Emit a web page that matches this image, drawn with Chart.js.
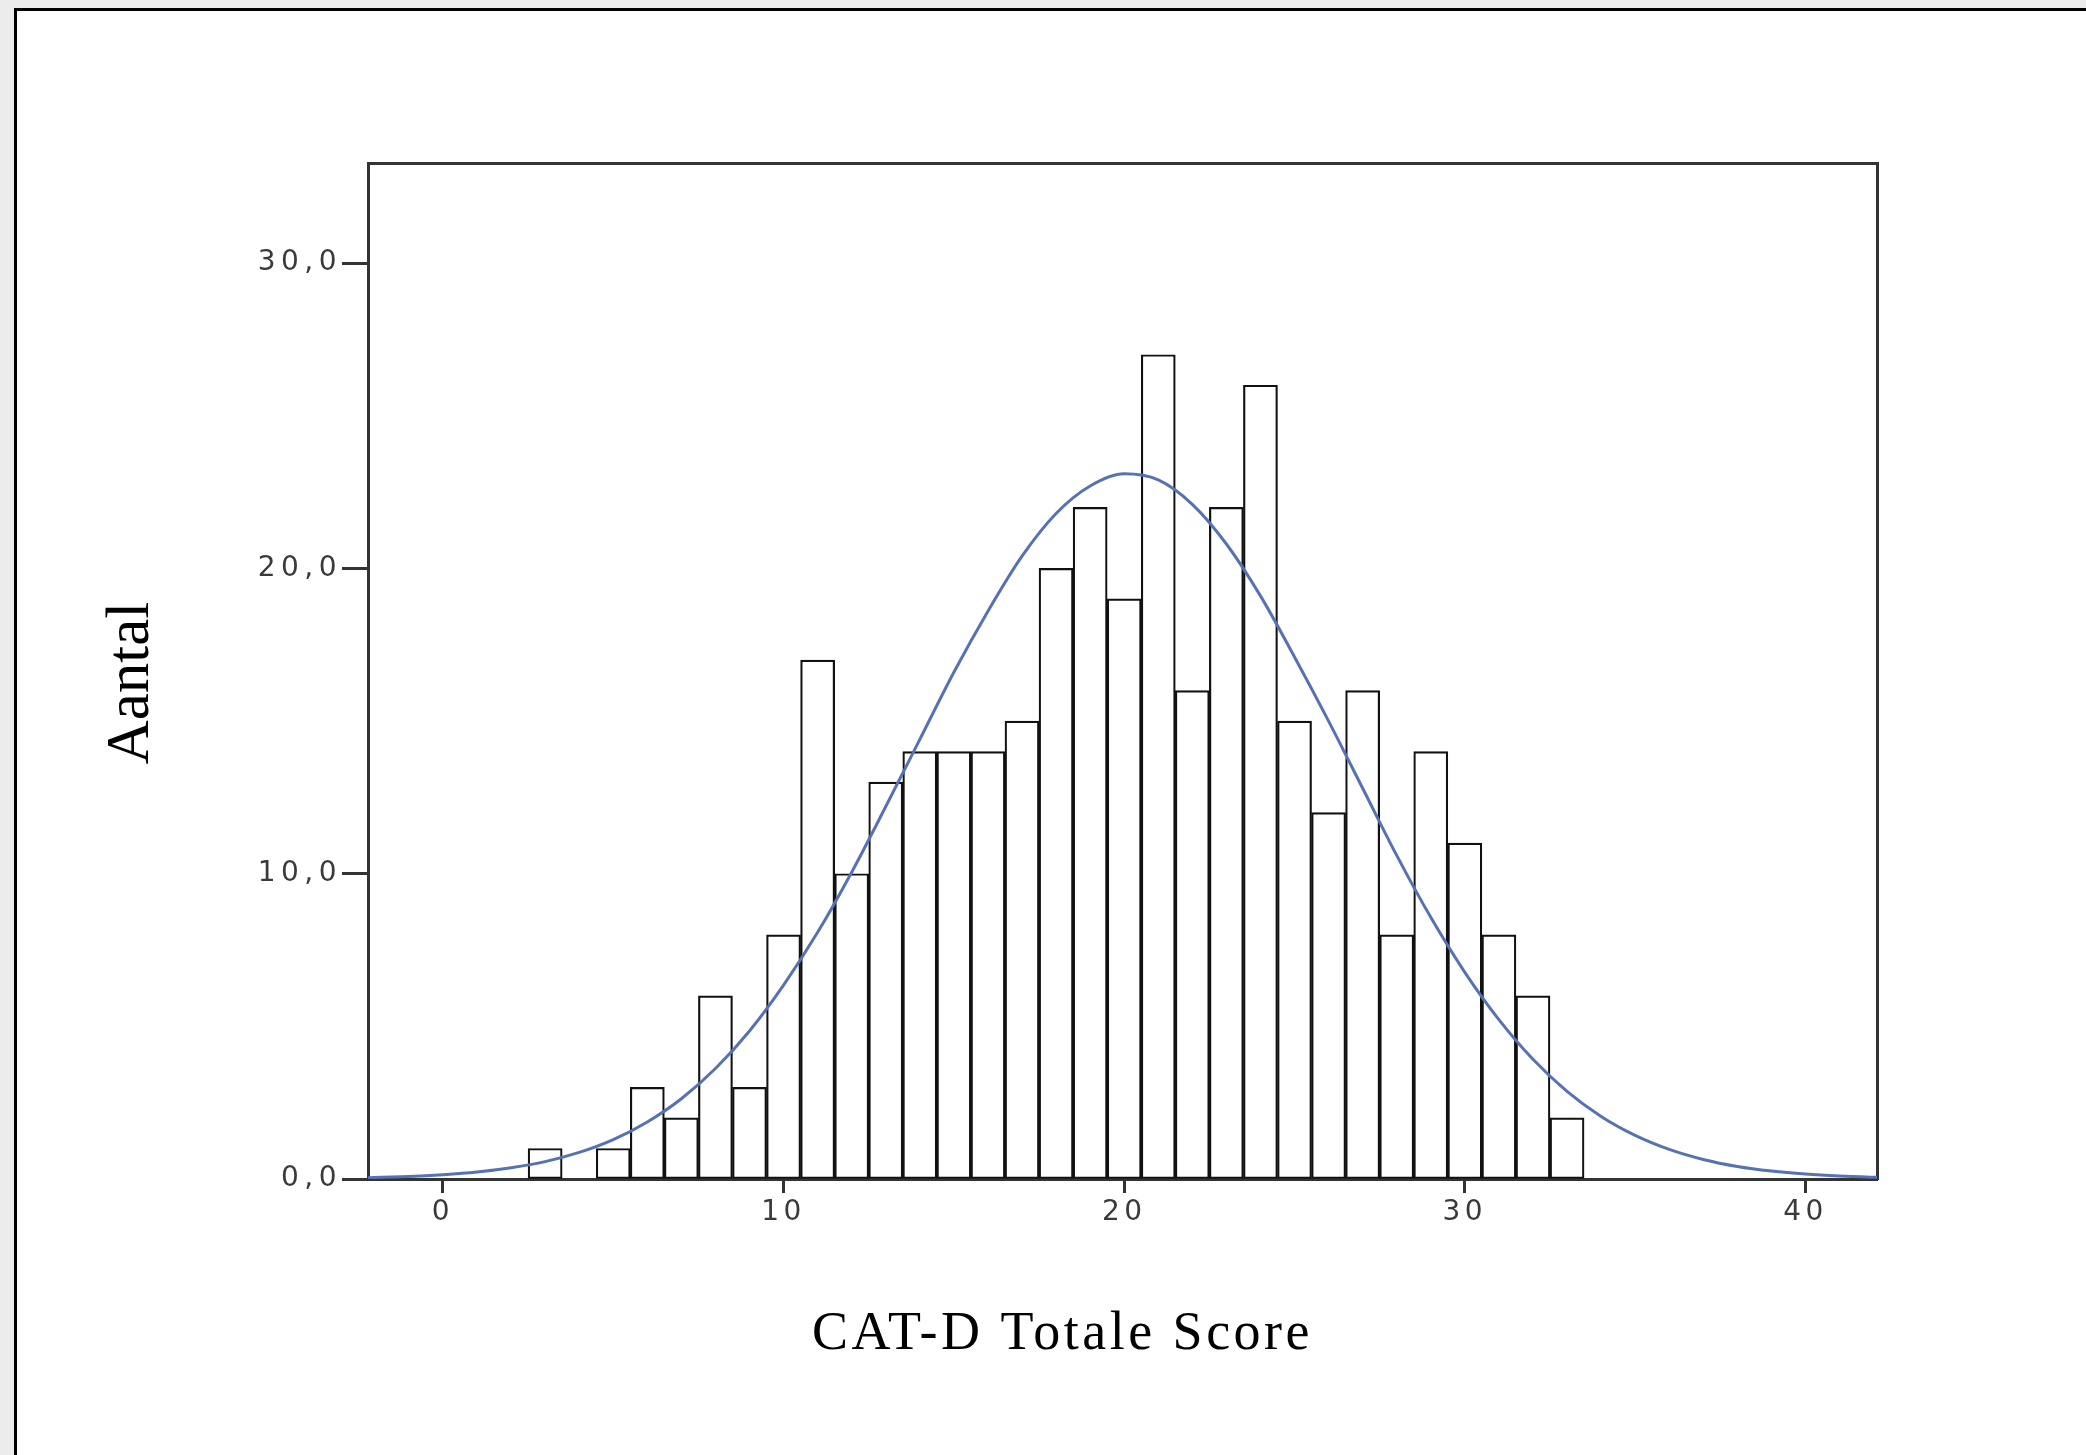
<!DOCTYPE html>
<html>
<head>
<meta charset="utf-8">
<script src="https://cdn.jsdelivr.net/npm/chart.js@4.4.1/dist/chart.umd.min.js"></script>
<style>
  html, body { margin: 0; padding: 0; }
  body { width: 2086px; height: 1455px; overflow: hidden; background: #ececec; position: relative; }
  #frame { position: absolute; left: 14px; top: 8px; width: 2069px; height: 1444px;
           border-left: 3px solid #000; border-top: 3px solid #000; background: #fff; }
  #c { display: block; }
</style>
</head>
<body>
<div id="frame"><canvas id="c" width="2069" height="1444"></canvas></div>
<script>
// ---- data ----
const binCenters = [3, 4, 5, 6, 7, 8, 9, 10, 11, 12, 13, 14, 15, 16, 17, 18, 19, 20,
                    21, 22, 23, 24, 25, 26, 27, 28, 29, 30, 31, 32, 33];
const binCounts  = [1, 0, 1, 3, 2, 6, 3, 8, 17, 10, 13, 14, 14, 14, 15, 20, 22, 19,
                    27, 16, 22, 26, 15, 12, 16, 8, 14, 11, 8, 6, 2];

const curveX = [-2.2, -2, -1, 0, 1, 2, 3, 4, 5, 6, 7, 8, 9, 10, 11, 12, 13, 14, 15, 16,
                17, 18, 19, 20, 21, 22, 23, 24, 25, 26, 27, 28, 29, 30, 31, 32, 33,
                34, 35, 36, 37, 38, 39, 40, 41, 42, 42.1];
const curveY = [0.04, 0.05, 0.08, 0.14, 0.23, 0.37, 0.57, 0.87, 1.29, 1.87, 2.63, 3.62,
                4.85, 6.35, 8.08, 10.05, 12.2, 14.4, 16.6, 18.6, 20.4, 21.8, 22.7, 23.1,
                22.9, 22.1, 20.8, 19.1, 17.1, 15.0, 12.8, 10.6, 8.57, 6.77, 5.22, 3.92,
                2.87, 2.05, 1.43, 0.97, 0.64, 0.41, 0.26, 0.16, 0.096, 0.056, 0.053];

const xTickValues = [0, 10, 20, 30, 40];
const xTickLabels = ['0', '10', '20', '30', '40'];
const yTickValues = [0, 10, 20, 30];
const yTickLabels = ['0,0', '10,0', '20,0', '30,0'];

const xTitle = 'CAT-D Totale Score';
const yTitle = 'Aantal';

// ---- styling ----
const AXIS = '#333333';
const CURVE = '#5672b4';

const textTweaks = {
  x: { tickSpacing: '4.5px', titleSpacing: '3.5px', titleDx: -60, titleDy: 0 },
  y: { tickSpacing: '5.5px', titleSpacing: '0px', titleDx: 0, titleDy: 12 }
};

const tweakPlugin = {
  id: 'textTweaks',
  beforeDraw(chart) {
    Object.values(chart.scales).forEach(scale => {
      if (scale.$tweaked) return;
      scale.$tweaked = true;
      const cfg = textTweaks[scale.id] || {};
      const origLabels = scale.drawLabels.bind(scale);
      const origTitle = scale.drawTitle.bind(scale);
      scale.drawLabels = function (area) {
        const ctx = this.ctx;
        ctx.save();
        if ('letterSpacing' in ctx) ctx.letterSpacing = cfg.tickSpacing || '0px';
        origLabels(area);
        ctx.restore();
      };
      scale.drawTitle = function () {
        const ctx = this.ctx;
        ctx.save();
        if ('letterSpacing' in ctx) ctx.letterSpacing = cfg.titleSpacing || '0px';
        ctx.translate(cfg.titleDx || 0, cfg.titleDy || 0);
        origTitle();
        ctx.restore();
      };
    });
  }
};

const barData = binCenters.map((c, i) => ({ x: c, y: binCounts[i] }));
const curveData = curveX.map((c, i) => ({ x: c, y: curveY[i] }));

new Chart(document.getElementById('c'), {
  data: {
    datasets: [
      {
        type: 'line',
        data: curveData,
        borderColor: CURVE,
        borderWidth: 3,
        pointRadius: 0,
        cubicInterpolationMode: 'monotone',
        fill: false,
        order: 0
      },
      {
        type: 'bar',
        data: barData,
        backgroundColor: '#ffffff',
        borderColor: '#111111',
        borderWidth: 2.2,
        borderSkipped: false,
        barPercentage: 1,
        categoryPercentage: 1,
        grouped: false,
        order: 1
      }
    ]
  },
  options: {
    responsive: false,
    animation: false,
    events: [],
    layout: { padding: { left: 0, top: 152, right: 209, bottom: 0 } },
    plugins: { legend: { display: false }, tooltip: { enabled: false } },
    scales: {
      x: {
        type: 'linear',
        position: 'bottom',
        min: -2.2,
        max: 42.1,
        offset: false,
        afterBuildTicks: s => { s.ticks = xTickValues.map(v => ({ value: v })); },
        afterFit: s => { s.height = 276; },
        grid: { display: true, offset: false, drawOnChartArea: false, drawTicks: true, tickLength: 14,
                tickColor: AXIS, tickWidth: 3 },
        border: { display: true, color: AXIS, width: 3 },
        ticks: {
          padding: 3,
          color: '#3a3a3a',
          font: { family: 'DejaVu Sans', size: 28 },
          maxRotation: 0,
          callback: (v) => { const i = xTickValues.indexOf(v); return i >= 0 ? xTickLabels[i] : ''; }
        },
        title: { display: true, text: xTitle, color: '#000',
                 font: { family: 'Liberation Serif', size: 54 },
                 padding: { top: 0, bottom: 88 } }
      },
      y: {
        type: 'linear',
        position: 'left',
        min: 0,
        max: 33.28,
        afterBuildTicks: s => { s.ticks = yTickValues.map(v => ({ value: v })); },
        afterFit: s => { s.width = 351; },
        grid: { display: true, offset: false, drawOnChartArea: false, drawTicks: true, tickLength: 26,
                tickColor: AXIS, tickWidth: 3 },
        border: { display: true, color: AXIS, width: 3 },
        ticks: {
          padding: 0,
          color: '#3a3a3a',
          font: { family: 'DejaVu Sans', size: 28 },
          callback: (v) => { const i = yTickValues.indexOf(v); return i >= 0 ? yTickLabels[i] : ''; }
        },
        title: { display: true, text: yTitle, color: '#000',
                 font: { family: 'Liberation Serif', size: 61 },
                 padding: { top: 78, bottom: 0 } }
      },
      x2: {
        type: 'linear',
        position: 'top',
        afterFit: s => { s.height = 0; },
        grid: { display: false },
        ticks: { display: false },
        border: { display: true, color: AXIS, width: 3 }
      },
      y2: {
        type: 'linear',
        position: 'right',
        afterFit: s => { s.width = 0; },
        grid: { display: false },
        ticks: { display: false },
        border: { display: true, color: AXIS, width: 3 }
      }
    }
  },
  plugins: [tweakPlugin]
});
</script>
</body>
</html>
